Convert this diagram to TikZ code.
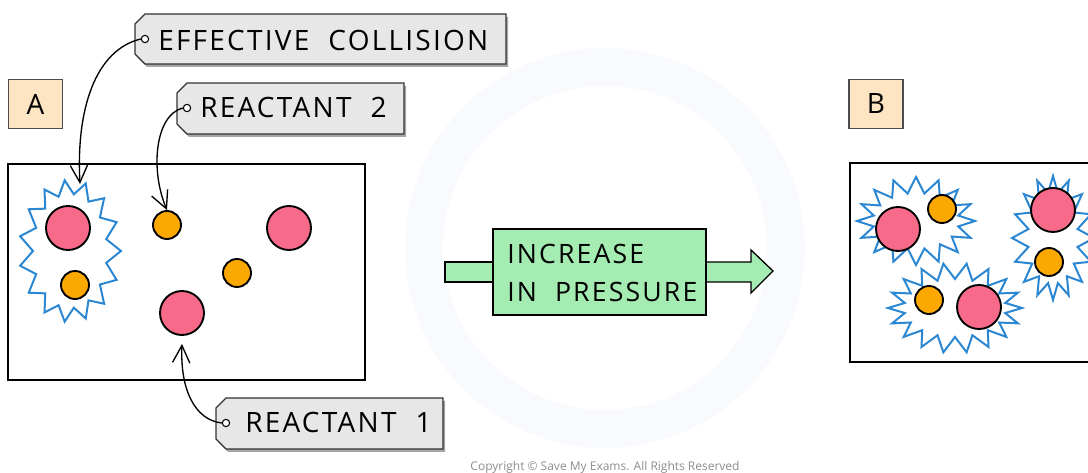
\documentclass[tikz,border=0pt]{standalone}
\usepackage{fontspec}
\setmainfont{Open Sans}[LetterSpace=8]
\newfontfamily\plainfont{Open Sans}
\usetikzlibrary{arrows.meta}
\definecolor{pinkc}{HTML}{F76A8A}
\definecolor{orangec}{HTML}{FBA800}
\definecolor{bluec}{HTML}{2C87D3}
\definecolor{greenc}{HTML}{A4ECB2}
\definecolor{labelc}{HTML}{FDE4C2}
\definecolor{tagc}{HTML}{E7E7E7}
\definecolor{wmc}{HTML}{F8FAFD}
\newcommand\tagpoly[4]{%
  \fill[black!35] (#1+2,#2+10+3) -- (#1+10+2,#2+3) -- (#3+2,#2+3) -- (#3+2,#4+3) -- (#1+10+2,#4+3) -- (#1+2,#4-10+3) -- cycle;
  \draw[tagstyle] (#1,#2+10) -- (#1+10,#2) -- (#3,#2) -- (#3,#4) -- (#1+10,#4) -- (#1,#4-10) -- cycle;}
\newcommand\spiky[6]{% cx cy rx ry amp n
  \draw[blobstyle] plot[samples={2*#6+1}, domain=0:360, variable=\t]
    ({#1+(#3+#5*cos(#6*\t))*cos(\t)}, {#2+(#4+#5*cos(#6*\t))*sin(\t)}) -- cycle;}
\begin{document}
\begin{tikzpicture}[x=0.75pt,y=-0.75pt,
  frame/.style={draw=black, line width=2.2pt},
  pinkball/.style={circle, draw=black, line width=1.4pt, fill=pinkc, minimum size=33pt, inner sep=0pt},
  orangeball/.style={circle, draw=black, line width=1.4pt, fill=orangec, minimum size=21pt, inner sep=0pt},
  blobstyle/.style={draw=bluec, line width=1.5pt, fill=white, line join=miter},
  tagstyle/.style={draw=black!80, line width=1pt, fill=tagc},
  tagtext/.style={anchor=base west, inner sep=0pt, font=\fontsize{21}{25}\selectfont},
  labelbox/.style={draw=black!70, line width=1pt, fill=labelc, minimum width=40.5pt, minimum height=36.5pt, inner sep=0pt, font=\fontsize{21}{25}\selectfont},
  hole/.style={circle, draw=black, line width=0.8pt, fill=white, minimum size=5.5pt, inner sep=0pt},
  pointer/.style={line width=1pt, -{Straight Barb[length=13pt, width=13pt]}},
  bigarrow/.style={draw=black, line width=1pt, fill=greenc}
]
\clip (0,0) rectangle (1088,473);
\useasboundingbox (0,0) rectangle (1088,473);
% watermark
\fill[wmc, even odd rule] (605,248) circle (200) (605,248) circle (162);
\node[text=black!45, font=\plainfont\fontsize{9}{11}\selectfont] (copy) at (605,467) {Copyright © Save My Exams. All Rights Reserved};

% labels A, B
\node[labelbox] (labA) at (35.5,104) {A};
\node[labelbox] (labB) at (876,104) {B};

% frame A
\draw[frame] (8,164) rectangle (365,380);
\spiky{70}{251}{44}{64}{7}{15}
\node[pinkball] (pA1) at (68,228) {};
\node[orangeball] (oA1) at (75,285) {};
\node[orangeball] (oA2) at (167,225) {};
\node[pinkball] (pA2) at (289,228) {};
\node[orangeball] (oA3) at (237,273) {};
\node[pinkball] (pA3) at (182,313) {};
\coordinate (blobtop) at (80,184);

% frame B
\draw[frame] (850,163) rectangle (1110,362);
\spiky{916}{221}{51}{36}{8}{16}
\spiky{955}{308}{59}{37}{8}{18}
\spiky{1053}{238}{33}{54}{8}{16}
\node[pinkball] (pB1) at (898,229) {};
\node[orangeball] (oB1) at (942,209) {};
\node[orangeball] (oB2) at (929,300) {};
\node[pinkball] (pB2) at (979,307) {};
\node[pinkball] (pB3) at (1053,210) {};
\node[orangeball] (oB3) at (1049,262) {};

% big arrow
\draw[bigarrow] (445,262) rectangle (500,282);
\draw[bigarrow] (700,262) -- (751,262) -- (751,250) -- (773,271) -- (751,293) -- (751,282) -- (700,282) -- cycle;
\draw[bigarrow] (493,229) rectangle (706,315);
\node[tagtext, font=\fontsize{20}{24}\selectfont] (inc) at (507,264) {INCREASE};
\node[tagtext, font=\fontsize{20}{24}\selectfont] (inp) at (507,302) {IN\ \ PRESSURE};

% tags
\tagpoly{135}{14}{506}{64}
\node[tagtext] (tEC) at (158,51) {EFFECTIVE\ \ COLLISION};
\node[hole] (hEC) at (145,39) {};
\tagpoly{177}{83}{404}{134}
\node[tagtext] (tR2) at (200,118) {REACTANT\ \ 2};
\node[hole] (hR2) at (187,108) {};
\tagpoly{216}{398}{443}{449}
\node[tagtext] (tR1) at (245,433) {REACTANT\ \ 1};
\node[hole] (hR1) at (226,423) {};

% pointers
\draw[pointer] (hEC.west) .. controls (95,50) and (76,110) .. (blobtop);
\draw[pointer] (hR2.west) .. controls (155,115) and (150,170) .. (oA2.north);
\draw[pointer] (hR1.west) .. controls (195,420) and (180,390) .. ([yshift=-6pt]pA3.south);
\end{tikzpicture}
\end{document}
